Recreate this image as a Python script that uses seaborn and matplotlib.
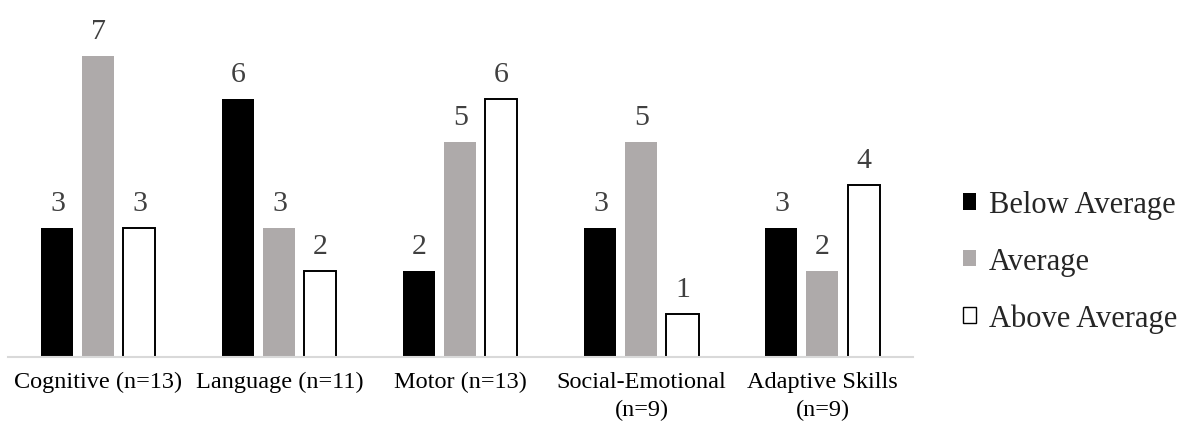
import matplotlib
matplotlib.use("Agg")
import matplotlib.pyplot as plt
import seaborn as sns
import pandas as pd

categories = ["Cognitive (n=13)", "Language (n=11)", "Motor (n=13)",
              "Social-Emotional\n(n=9)", "Adaptive Skills\n(n=9)"]
series = ["Below Average", "Average", "Above Average"]
below_avg = [3, 6, 2, 3, 3]
average = [7, 3, 5, 5, 2]
above_avg = [3, 2, 6, 1, 4]

colors = {"Below Average": "#000000", "Average": "#AEAAAA", "Above Average": "#FFFFFF"}

df = pd.DataFrame({
    "category": categories * 3,
    "group": [s for s in series for _ in categories],
    "count": below_avg + average + above_avg,
})

sns.set_theme(style="white")
plt.rcParams["font.family"] = ["Liberation Serif", "DejaVu Serif"]

fig = plt.figure(figsize=(11.88, 4.27), dpi=100)
ax = fig.add_axes([0.0067, 0.1616, 0.7618, 0.805])

sns.barplot(data=df, x="category", y="count", hue="group", order=categories,
            hue_order=series, palette=colors, width=0.68, gap=0.22,
            saturation=1, linewidth=0, ax=ax, legend=True)

# outline only the white bars
for name, cont in zip(series, ax.containers):
    for bar in cont:
        if name == "Above Average":
            bar.set_edgecolor("#000000")
            bar.set_linewidth(1.4)
        else:
            bar.set_edgecolor("none")
    ax.bar_label(cont, labels=[str(int(b.get_height())) for b in cont],
                 padding=9, fontsize=21.5, color="#404040")

ax.set_ylim(0, 8)
ax.set_xlim(-0.5, 4.5)
ax.set_xlabel("")
ax.set_ylabel("")
ax.set_yticks([])
ax.tick_params(axis="x", length=0, pad=10, labelsize=17.5, labelcolor="#000000")
for lbl in ax.get_xticklabels():
    lbl.set_linespacing(1.45)
for side in ["top", "right", "left"]:
    ax.spines[side].set_visible(False)
ax.spines["bottom"].set_color("#D9D9D9")
ax.spines["bottom"].set_linewidth(1.5)

handles, labels = ax.get_legend_handles_labels()
ax.get_legend().remove()
for h, name in zip(handles, labels):
    h.set_edgecolor("#000000" if name == "Above Average" else "none")
    h.set_linewidth(1.0)
fig.legend(handles, labels, loc="center left", bbox_to_anchor=(0.8, 0.385),
           frameon=False, fontsize=22, handlelength=0.45, handleheight=0.45,
           handletextpad=0.4, labelspacing=0.9, borderaxespad=0)

fig.savefig("out.png", dpi=100)
